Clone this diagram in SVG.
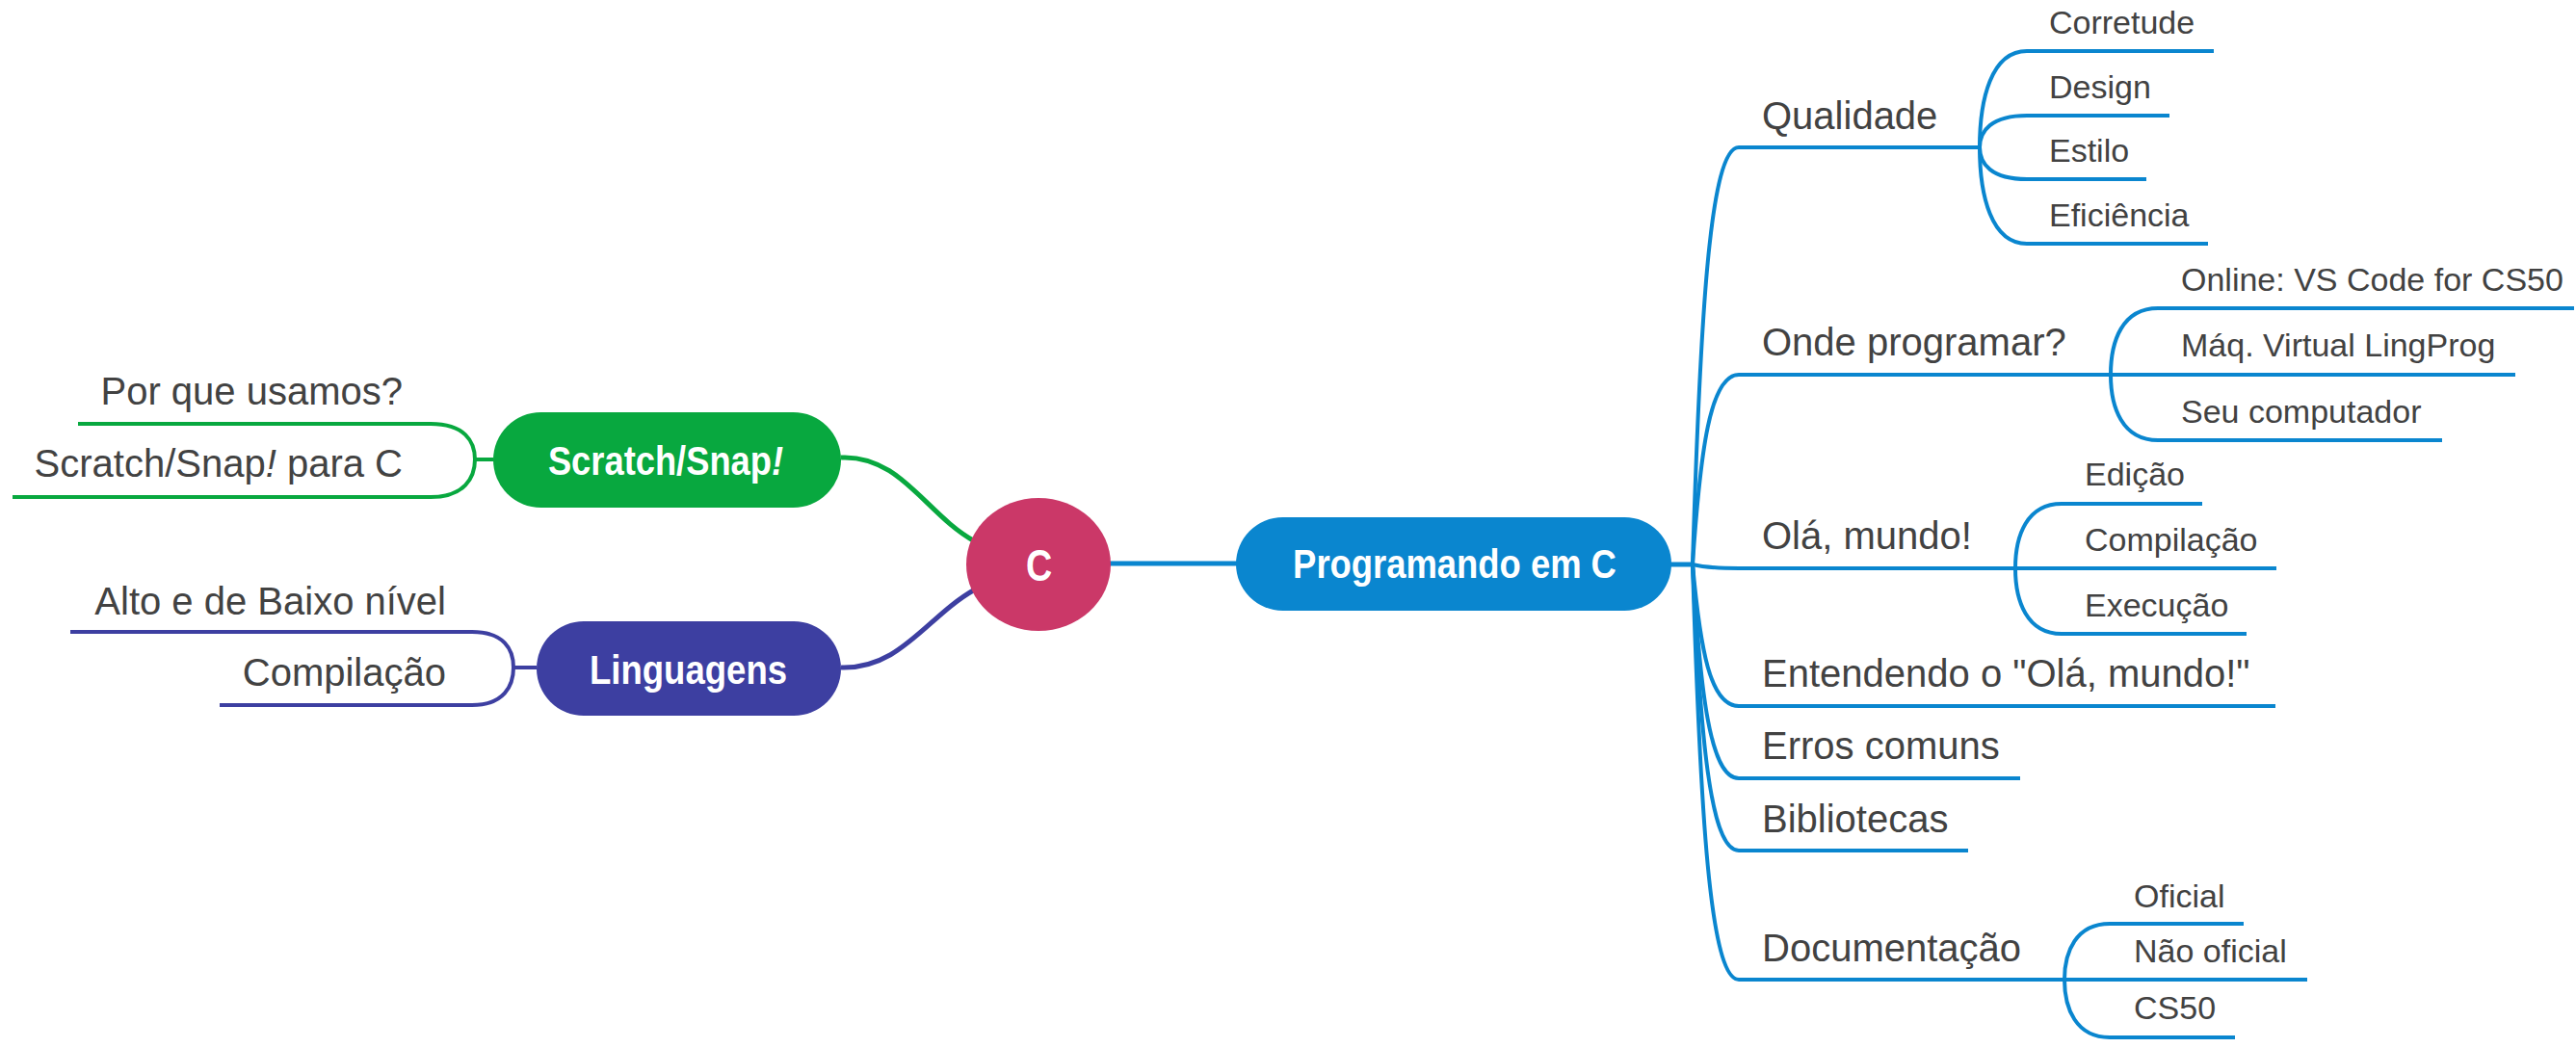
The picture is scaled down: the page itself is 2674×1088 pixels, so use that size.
<svg xmlns="http://www.w3.org/2000/svg" width="2674" height="1088" viewBox="0 0 2674 1088">
<style>
.t{font-family:"Liberation Sans",Arial,sans-serif;fill:#424242}
.l1{font-size:40px}
.l2{font-size:34px}
.b{font-family:"Liberation Sans",Arial,sans-serif;font-weight:bold;fill:#ffffff;text-anchor:middle;font-size:42px}
.ln{fill:none;stroke-linecap:butt;stroke-linejoin:round}
.blue{stroke:#0a86cf}
.green{stroke:#08a83f}
.purple{stroke:#3d3fa1}
.main{stroke-width:5}
.sub{stroke-width:4}
</style>
<rect width="2674" height="1088" fill="#ffffff"/>
<g id="connectors">
  <path class="ln green main" d="M873,475 C935,472 962,535 1012,562"/>
  <path class="ln purple main" d="M873,693 C935,695 962,640 1012,612"/>
  <path class="ln blue main" d="M1150,585 L1286,585"/>
  <path class="ln green sub" d="M512,477 L493,477"/>
  <path class="ln green sub" d="M493,477 C493,458 482,440 447,440 L81,440"/>
  <path class="ln green sub" d="M493,477 C493,496 482,516 447,516 L13,516"/>
  <path class="ln purple sub" d="M557,693 L533,693"/>
  <path class="ln purple sub" d="M533,693 C533,674 523,656 490,656 L73,656"/>
  <path class="ln purple sub" d="M533,693 C533,712 523,732 490,732 L228,732"/>
  <path class="ln blue main" d="M1732,586 L1757,586"/>
  <path class="ln blue sub" d="M1757,586 C1765,326 1775,153 1805,153 L2055,153"/>
  <path class="ln blue sub" d="M1757,586 C1765,468 1775,389 1805,389 L2191,389"/>
  <path class="ln blue sub" d="M1757,586 C1765,588 1775,590 1805,590 L2363,590"/>
  <path class="ln blue sub" d="M1757,586 C1765,674 1775,733 1805,733 L2362,733"/>
  <path class="ln blue sub" d="M1757,586 C1765,719 1775,808 1805,808 L2097,808"/>
  <path class="ln blue sub" d="M1757,586 C1765,764 1775,883 1805,883 L2043,883"/>
  <path class="ln blue sub" d="M1757,586 C1765,845 1775,1017 1805,1017 L2395,1017"/>
  <path class="ln blue sub" d="M2055,153 C2055,103 2067,53 2104,53 L2298,53"/>
  <path class="ln blue sub" d="M2055,153 C2055,136 2067,120 2104,120 L2252,120"/>
  <path class="ln blue sub" d="M2055,153 C2055,170 2067,186 2104,186 L2228,186"/>
  <path class="ln blue sub" d="M2055,153 C2055,203 2067,253 2104,253 L2292,253"/>
  <path class="ln blue sub" d="M2191,389 C2191,354 2203,320 2240,320 L2672,320"/>
  <path class="ln blue sub" d="M2191,389 L2611,389"/>
  <path class="ln blue sub" d="M2191,389 C2191,423 2203,457 2240,457 L2535,457"/>
  <path class="ln blue sub" d="M2092,590 C2092,556 2104,523 2140,523 L2286,523"/>
  <path class="ln blue sub" d="M2092,590 C2092,624 2104,658 2140,658 L2332,658"/>
  <path class="ln blue sub" d="M2143,1017 C2143,988 2155,959 2190,959 L2329,959"/>
  <path class="ln blue sub" d="M2143,1017 C2143,1047 2155,1077 2190,1077 L2320,1077"/>
</g>
<g id="node-c">
  <ellipse cx="1078" cy="586" rx="75" ry="69" fill="#cb3868"/>
  <text class="b" transform="translate(1078.5,603) scale(0.82,1)" x="0" y="0" style="font-size:46px">C</text>
</g>
<g id="node-programando">
  <rect x="1283" y="537" width="452" height="97" rx="48.5" fill="#0a86cf"/>
  <text class="b" transform="translate(1510,600) scale(0.867,1)" x="0" y="0">Programando em C</text>
</g>
<g id="node-scratch">
  <rect x="512" y="428" width="361" height="99" rx="49.5" fill="#08a83f"/>
  <text class="b" transform="translate(691,493) scale(0.865,1)" x="0" y="0">Scratch/Snap<tspan font-style="italic">!</tspan></text>
</g>
<g id="node-linguagens">
  <rect x="557" y="645" width="316" height="98" rx="49" fill="#3d3fa1"/>
  <text class="b" transform="translate(714.5,710) scale(0.87,1)" x="0" y="0">Linguagens</text>
</g>
<g id="node-porque"><text class="t l1" x="418" y="420" text-anchor="end">Por que usamos?</text></g>
<g id="node-scratchparac"><text class="t l1" x="418" y="495" text-anchor="end">Scratch/Snap<tspan font-style="italic">!</tspan> para C</text></g>
<g id="node-alto"><text class="t l1" x="463" y="638" text-anchor="end">Alto e de Baixo nível</text></g>
<g id="node-compilacao-l"><text class="t l1" x="463" y="712" text-anchor="end">Compilação</text></g>
<g id="node-qualidade"><text class="t l1" x="1829" y="134">Qualidade</text></g>
<g id="node-corretude"><text class="t l2" x="2127" y="35">Corretude</text></g>
<g id="node-design"><text class="t l2" x="2127" y="102">Design</text></g>
<g id="node-estilo"><text class="t l2" x="2127" y="168">Estilo</text></g>
<g id="node-eficiencia"><text class="t l2" x="2127" y="235">Eficiência</text></g>
<g id="node-onde"><text class="t l1" x="1829" y="369">Onde programar?</text></g>
<g id="node-online"><text class="t l2" x="2264" y="302">Online: VS Code for CS50</text></g>
<g id="node-maq"><text class="t l2" x="2264" y="370">Máq. Virtual LingProg</text></g>
<g id="node-seu"><text class="t l2" x="2264" y="439">Seu computador</text></g>
<g id="node-ola"><text class="t l1" x="1829" y="570">Olá, mundo!</text></g>
<g id="node-edicao"><text class="t l2" x="2164" y="504">Edição</text></g>
<g id="node-compilacao-r"><text class="t l2" x="2164" y="572">Compilação</text></g>
<g id="node-execucao"><text class="t l2" x="2164" y="640">Execução</text></g>
<g id="node-entendendo"><text class="t l1" x="1829" y="713">Entendendo o "Olá, mundo!"</text></g>
<g id="node-erros"><text class="t l1" x="1829" y="788">Erros comuns</text></g>
<g id="node-bibliotecas"><text class="t l1" x="1829" y="864">Bibliotecas</text></g>
<g id="node-documentacao"><text class="t l1" x="1829" y="998">Documentação</text></g>
<g id="node-oficial"><text class="t l2" x="2215" y="942">Oficial</text></g>
<g id="node-naooficial"><text class="t l2" x="2215" y="999">Não oficial</text></g>
<g id="node-cs50"><text class="t l2" x="2215" y="1058">CS50</text></g>
</svg>
